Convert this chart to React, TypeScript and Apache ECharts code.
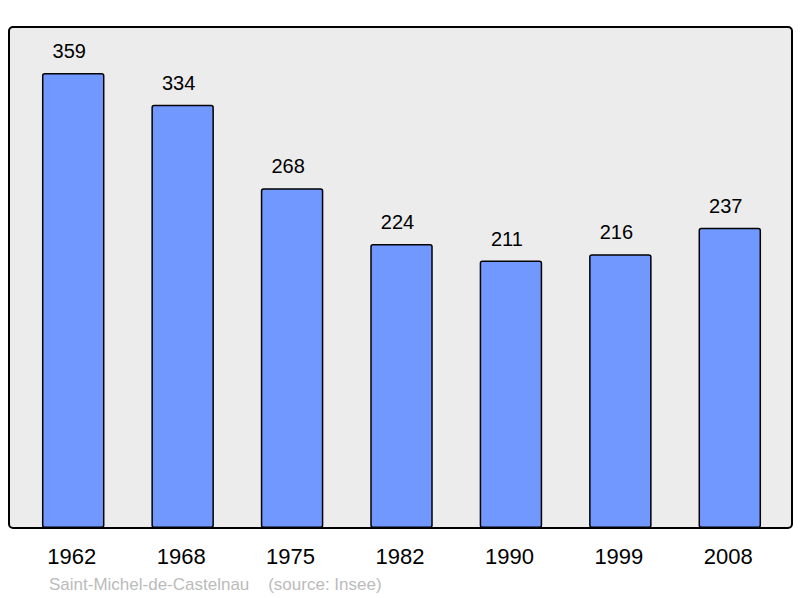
import React, { useEffect, useRef } from "react";
import * as echarts from "echarts";

const years = ["1962", "1968", "1975", "1982", "1990", "1999", "2008"];
const population = [359, 334, 268, 224, 211, 216, 237];
const sourceText = "Saint-Michel-de-Castelnau    (source: Insee)";

export default function App() {
  const ref = useRef<HTMLDivElement>(null);
  useEffect(() => {
    const chart = echarts.init(ref.current!, null, { renderer: "svg" });
    chart.setOption({
      animation: false,
      backgroundColor: "#ffffff",
      textStyle: { fontFamily: "Liberation Sans, Arial, sans-serif" },
      graphic: [
        {
          type: "rect",
          shape: { x: 9, y: 27, width: 783, height: 501, r: 4 },
          style: { fill: "#ececec", stroke: "#000", lineWidth: 2 },
          z: -10,
          silent: true,
        },
        {
          type: "text",
          x: 49,
          y: 584,
          style: {
            text: sourceText,
            fill: "#bbbbbb",
            font: "17px 'Liberation Sans', Arial, sans-serif",
            textVerticalAlign: "middle",
          },
        },
      ],
      grid: { left: 18.5, width: 766, top: 27, height: 501 },
      xAxis: {
        type: "category",
        data: years,
        axisLine: { show: false },
        axisTick: { show: false },
        axisLabel: {
          color: "#000",
          fontSize: 22,
          margin: 17,
          fontFamily: "Liberation Sans, Arial, sans-serif",
          padding: [0, 3, 0, 0],
        },
      },
      yAxis: {
        type: "value",
        min: 0,
        max: 395.3,
        show: false,
        splitLine: { show: false },
      },
      series: [
        {
          type: "bar",
          data: population,
          barWidth: 62.5,
          itemStyle: {
            color: "#7098ff",
            borderColor: "#000",
            borderWidth: 1.5,
            borderRadius: 2,
          },
          label: {
            show: true,
            position: "top",
            distance: 12,
            offset: [-4, 0],
            color: "#000",
            fontSize: 20,
            fontFamily: "Liberation Sans, Arial, sans-serif",
          },
        },
      ],
    });
    return () => chart.dispose();
  }, []);
  return <div ref={ref} style={{ width: 800, height: 598, position: "absolute", left: 0, top: 0 }} />;
}
